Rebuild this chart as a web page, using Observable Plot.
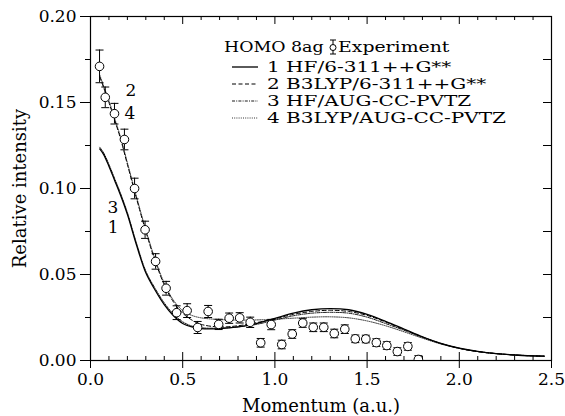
<!DOCTYPE html>
<html><head><meta charset="utf-8">
<script src="https://cdn.jsdelivr.net/npm/d3@7"></script>
<script src="https://cdn.jsdelivr.net/npm/@observablehq/plot@0.6"></script>
<style>body{margin:0;background:#fff}</style>
</head><body><div id="chart"></div>
<script>
// ---- data ----
const expX = [0.049,0.080,0.130,0.184,0.239,0.296,0.353,0.410,0.467,0.524,0.581,0.638,0.695,0.752,0.809,0.866,0.923,0.980,1.037,1.094,1.151,1.208,1.265,1.322,1.379,1.436,1.493,1.550,1.607,1.664,1.721,1.778];
const expY = [0.171,0.153,0.1435,0.1285,0.100,0.076,0.0576,0.042,0.0278,0.029,0.0192,0.0285,0.021,0.0246,0.0248,0.0222,0.0103,0.0209,0.0093,0.0154,0.0218,0.0193,0.0193,0.0157,0.0182,0.0126,0.0125,0.0104,0.0087,0.0052,0.0082,0.0006];
const expErr = [0.0095,0.006,0.006,0.006,0.006,0.005,0.0045,0.004,0.004,0.004,0.0035,0.0035,0.003,0.003,0.003,0.003,0.0025,0.003,0.0025,0.0025,0.0025,0.0025,0.0025,0.0025,0.0025,0.0022,0.0022,0.0022,0.0022,0.0022,0.0022,0.0022];

const theoryX = [0.05,0.07,0.10,0.13,0.16,0.20,0.25,0.30,0.35,0.40,0.45,0.50,0.55,0.60,0.70,0.80,0.90,1.00,1.10,1.20,1.30,1.40,1.50,1.60,1.70,1.80,1.90,2.00,2.10,2.20,2.30,2.40,2.46];
const hf6311   = [0.123,0.120,0.113,0.105,0.097,0.085,0.067,0.051,0.041,0.0325,0.026,0.0215,0.0195,0.0185,0.0185,0.0195,0.0215,0.0245,0.0275,0.0295,0.0302,0.0295,0.0268,0.0228,0.0183,0.0138,0.0100,0.0072,0.0053,0.0040,0.0032,0.0027,0.0025];
const b3lyp6311= [0.165,0.159,0.150,0.140,0.130,0.114,0.094,0.075,0.058,0.044,0.034,0.0275,0.0235,0.021,0.0195,0.0202,0.022,0.0243,0.0268,0.0285,0.0292,0.0285,0.0262,0.0224,0.0180,0.0137,0.0099,0.0071,0.0052,0.0040,0.0032,0.0027,0.0025];
const hfAug    = [0.124,0.121,0.114,0.106,0.098,0.086,0.068,0.052,0.042,0.0335,0.027,0.0225,0.020,0.019,0.0188,0.0195,0.021,0.0235,0.026,0.0275,0.028,0.0275,0.0252,0.0215,0.0176,0.0135,0.0098,0.0071,0.0052,0.0040,0.0032,0.0027,0.0025];
const b3lypAug = [0.166,0.160,0.151,0.141,0.131,0.115,0.095,0.076,0.059,0.045,0.035,0.029,0.0262,0.0248,0.0238,0.0235,0.0236,0.024,0.0246,0.0252,0.0254,0.0248,0.023,0.0202,0.0167,0.0130,0.0096,0.0070,0.0052,0.0040,0.0032,0.0027,0.0025];

const seriesLabels = ["1 HF/6-311++G**","2 B3LYP/6-311++G**","3 HF/AUG-CC-PVTZ","4 B3LYP/AUG-CC-PVTZ"];
const seriesShort = ["1","2","3","4"];
const legendTitle = "HOMO 8ag";
const expLabel = "Experiment";
const xTicksMajor = [0,0.5,1,1.5,2,2.5];
const yTicksMajor = [0,0.05,0.10,0.15,0.20];
const xLabel = "Momentum (a.u.)";
const yLabel = "Relative intensity";

// ---- build ----
const FONT = "DejaVu Serif";
const W = 565, H = 416, ML = 90, MR = 14, MT = 16, MB = 56;
const PW = W - ML - MR, PH = H - MT - MB;

const exp = expX.map((x,i)=>({x, y: expY[i], lo: expY[i]-expErr[i], hi: expY[i]+expErr[i]}));
const caps = exp.flatMap(d=>[{x:d.x, y:d.lo},{x:d.x, y:d.hi}]);
const allSeries = [hf6311, b3lyp6311, hfAug, b3lypAug];
const styles = [
  {strokeWidth:1.3, strokeDasharray:null},
  {strokeWidth:1.0, strokeDasharray:"4,2.5"},
  {strokeWidth:0.9, strokeDasharray:"3,1.2,1,1.2"},
  {strokeWidth:0.8, strokeDasharray:"1,1.2"}
];
const lines = allSeries.map((s,k)=>theoryX.map((x,i)=>({x, y: s[i]})));

const xMinor = d3.range(0,2.5001,0.1).map(v=>+v.toFixed(2)).filter(v=>!xTicksMajor.includes(v));
const yMinor = d3.range(0.025,0.2,0.05).map(v=>+v.toFixed(3));

const capSymbol = {draw(ctx){ ctx.moveTo(-4,0); ctx.lineTo(4,0); }};

const curveLabels = [
  {t: seriesShort[1], s:1, i:1, dx:28, dy:5},
  {t: seriesShort[3], s:3, i:3, dx:16, dy:-3},
  {t: seriesShort[2], s:2, i:5, dx:-14, dy:-4},
  {t: seriesShort[0], s:0, i:6, dx:-23, dy:-16}
];

const marks = [
  Plot.ruleX(xMinor, {x: d=>d, insetTop: PH-4, stroke:"#000", strokeWidth:1}),
  Plot.ruleX(xMinor, {x: d=>d, insetBottom: PH-4, stroke:"#000", strokeWidth:1}),
  Plot.ruleX(xTicksMajor, {x: d=>d, insetBottom: PH-8, stroke:"#000", strokeWidth:1}),
  Plot.ruleX(xTicksMajor, {x: d=>d, insetTop: PH-8, stroke:"#000", strokeWidth:1}),
  Plot.ruleY(yTicksMajor, {y: d=>d, insetLeft: PW-8, stroke:"#000", strokeWidth:1}),
  Plot.ruleY(yMinor, {y: d=>d, insetLeft: PW-8, stroke:"#000", strokeWidth:1}),
  Plot.axisX({anchor:"bottom", ticks: xTicksMajor, tickSize: 8, tickPadding: 4, tickFormat: d=>d.toFixed(1), label: null, fontSize: 17}),
  Plot.axisY({anchor:"left", ticks: yTicksMajor, tickSize: 10, tickPadding: 4, tickFormat: d=>d.toFixed(2), label: null, fontSize: 17}),
  Plot.axisY({anchor:"left", ticks: yMinor, tickSize: 5, tickFormat: ()=>"", label: null}),
  Plot.frame({stroke:"#000", strokeWidth:1.2}),
  ...lines.map((d,k)=>Plot.line(d, {x:"x", y:"y", curve:"catmull-rom", stroke:"#000", strokeWidth: styles[k].strokeWidth, strokeDasharray: styles[k].strokeDasharray})),
  Plot.ruleX(exp, {x:"x", y1:"lo", y2:"hi", stroke:"#000", strokeWidth:1, clip:true}),
  Plot.dot(caps, {x:"x", y:"y", symbol: capSymbol, r: 4, fill:"none", stroke:"#000", strokeWidth:1, clip:true}),
  Plot.dot(exp, {x:"x", y:"y", r:4.3, fill:"#fff", stroke:"#000", strokeWidth:1, clip:true}),
  Plot.text([xLabel], {frameAnchor:"bottom", dy: 46, fontSize:18, fill:"#000", lineAnchor:"middle"}),
  Plot.text([yLabel], {frameAnchor:"left", dx: -70, rotate:-90, fontSize:18, fill:"#000", textAnchor:"middle", lineAnchor:"middle"})
];

const plot = Plot.plot({
  width: W, height: H,
  marginLeft: ML, marginRight: MR, marginTop: MT, marginBottom: MB,
  style: {fontFamily: FONT, fontSize: "17px", color:"#000", background:"#fff", overflow:"visible"},
  x: {type:"linear", domain:[0,2.5]},
  y: {type:"linear", domain:[0,0.2]},
  marks
});
document.getElementById("chart").appendChild(plot);

const xs = plot.scale("x"), ys = plot.scale("y");
const svg = d3.select(plot);
const lblG = svg.append("g").attr("font-family",FONT).attr("font-size",17).attr("text-anchor","middle");
curveLabels.forEach(d=>{
  lblG.append("text").attr("x", xs.apply(theoryX[d.i])+d.dx).attr("y", ys.apply(allSeries[d.s][d.i])+d.dy)
    .attr("dominant-baseline","middle").text(d.t);
});

// legend (glyphs stretched horizontally to mimic the wide serif of the original)
function stretch(sel, f){
  const n = sel.node(); const w = n.getComputedTextLength();
  sel.attr("textLength", w*f).attr("lengthAdjust","spacingAndGlyphs");
}
const lg = svg.append("g").attr("font-family",FONT).attr("font-size",14.5)
  .attr("fill","#000").attr("text-anchor","start");
stretch(lg.append("text").attr("x",224).attr("y",52).text(legendTitle), 1.2);
const sx = 333;
lg.append("line").attr("x1",sx).attr("x2",sx).attr("y1",40).attr("y2",54).attr("stroke","#000");
lg.append("line").attr("x1",sx-3).attr("x2",sx+3).attr("y1",40).attr("y2",40).attr("stroke","#000");
lg.append("line").attr("x1",sx-3).attr("x2",sx+3).attr("y1",54).attr("y2",54).attr("stroke","#000");
lg.append("circle").attr("cx",sx).attr("cy",47.5).attr("r",3).attr("fill","#fff").attr("stroke","#000");
stretch(lg.append("text").attr("x",sx+5).attr("y",52).text(expLabel), 1.3);
seriesLabels.forEach((t,k)=>{
  const y = 67 + k*17;
  lg.append("line").attr("x1",232).attr("x2",258).attr("y1",y).attr("y2",y)
    .attr("stroke","#000").attr("stroke-width",styles[k].strokeWidth)
    .attr("stroke-dasharray",styles[k].strokeDasharray);
  stretch(lg.append("text").attr("x",267).attr("y",y+5.3).text(t), 1.38);
});
</script>
</body></html>
